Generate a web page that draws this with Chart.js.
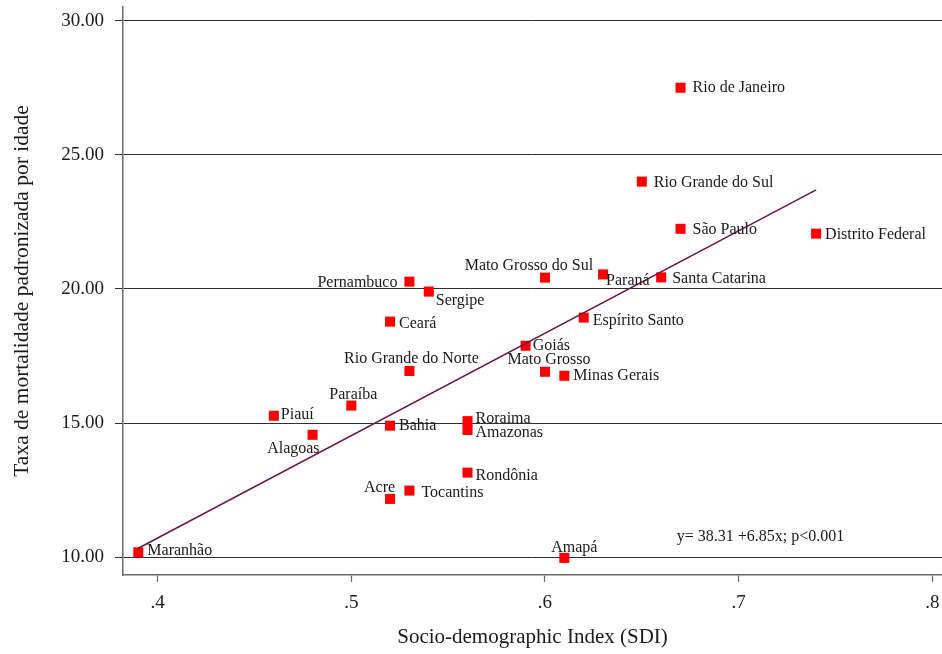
<!DOCTYPE html>
<html>
<head>
<meta charset="utf-8">
<script src="https://cdn.jsdelivr.net/npm/chart.js"></script>
<style>
  body { margin: 0; background: #fff; }
  #wrap { width: 942px; height: 654px; }
</style>
</head>
<body>
<div id="wrap"><canvas id="sdiChart" width="942" height="654"></canvas></div>
<script>
// States (Brazilian UFs), SDI and age-standardised mortality rate
const states = ['Acre', 'Alagoas', 'Amapá', 'Amazonas', 'Bahia', 'Ceará', 'Distrito Federal',
  'Espírito Santo', 'Goiás', 'Maranhão', 'Mato Grosso', 'Mato Grosso do Sul', 'Minas Gerais',
  'Paraíba', 'Paraná', 'Pernambuco', 'Piauí', 'Rio de Janeiro', 'Rio Grande do Norte',
  'Rio Grande do Sul', 'Rondônia', 'Roraima', 'Santa Catarina', 'São Paulo', 'Sergipe', 'Tocantins'];
const sdi = [0.52, 0.48, 0.61, 0.56, 0.52, 0.52, 0.74, 0.62, 0.59, 0.39, 0.60, 0.60, 0.61,
  0.50, 0.63, 0.53, 0.46, 0.67, 0.53, 0.65, 0.56, 0.56, 0.66, 0.67, 0.54, 0.53];
const rate = [12.17, 14.56, 9.97, 14.74, 14.90, 18.78, 22.06, 18.93, 17.88, 10.18, 16.91, 20.42, 16.76,
  15.65, 20.54, 20.27, 15.27, 27.50, 16.94, 24.00, 13.15, 15.07, 20.43, 22.24, 19.90, 12.48];

// fitted regression line (ends at min / max SDI)
const fitX = [0.39, 0.74];
const fitY = [10.33, 23.69];

const xTicks = [0.4, 0.5, 0.6, 0.7, 0.8];
const yTicks = [10, 15, 20, 25, 30];
const equationText = 'y= 38.31 +6.85x; p<0.001';
const equationAt = [0.668, 10.75];

// label placement: [align, dx, dy of baseline] in px from the marker
const labelLayout = {
  'Acre': ['right', 5, -7], 'Alagoas': ['right', 7, 18], 'Amapá': ['center', 10, -6],
  'Amazonas': ['left', 8, 7], 'Bahia': ['left', 9, 4], 'Ceará': ['left', 9, 6],
  'Distrito Federal': ['left', 9, 5], 'Espírito Santo': ['left', 9, 7], 'Goiás': ['left', 7, 4],
  'Maranhão': ['left', 9, 3], 'Mato Grosso': ['center', 4, -8], 'Mato Grosso do Sul': ['center', -16, -8],
  'Minas Gerais': ['left', 9, 4], 'Paraíba': ['center', 2, -7], 'Paraná': ['left', 3, 11],
  'Pernambuco': ['right', -12, 5], 'Piauí': ['left', 7, 3], 'Rio de Janeiro': ['left', 12, 4],
  'Rio Grande do Norte': ['center', 2, -8], 'Rio Grande do Sul': ['left', 12, 5],
  'Rondônia': ['left', 8, 7], 'Roraima': ['left', 8, 2], 'Santa Catarina': ['left', 11, 6],
  'São Paulo': ['left', 12, 5], 'Sergipe': ['left', 7, 13], 'Tocantins': ['left', 12, 6]
};

const serif = "'Liberation Serif', 'DejaVu Serif', serif";

// draws the state names and the equation text
const labelPlugin = {
  id: 'stateLabels',
  afterDatasetsDraw(chart) {
    const ctx = chart.ctx;
    const meta = chart.getDatasetMeta(1);
    ctx.save();
    ctx.font = '16px ' + serif;
    ctx.fillStyle = '#1a1a1a';
    ctx.textBaseline = 'alphabetic';
    meta.data.forEach(function (pt, i) {
      const lay = labelLayout[states[i]] || ['left', 10, 5];
      ctx.textAlign = lay[0];
      ctx.fillText(states[i], pt.x + lay[1], pt.y + lay[2]);
    });
    const ex = chart.scales.x.getPixelForValue(equationAt[0]);
    const ey = chart.scales.y.getPixelForValue(equationAt[1]);
    ctx.textAlign = 'left';
    ctx.textBaseline = 'middle';
    ctx.fillText(equationText, ex, ey);
    ctx.restore();
  }
};

const points = sdi.map(function (v, i) { return { x: v, y: rate[i] }; });
const fitLine = fitX.map(function (v, i) { return { x: v, y: fitY[i] }; });

const ctx = document.getElementById('sdiChart').getContext('2d');
const sdiChart = new Chart(ctx, {
  type: 'scatter',
  data: {
    datasets: [
      {
        label: 'Fitted values',
        data: fitLine,
        showLine: true,
        borderColor: '#6e1446',
        borderWidth: 1.5,
        pointRadius: 0,
        fill: false
      },
      {
        label: 'Taxa',
        data: points,
        pointStyle: 'rect',
        pointRadius: 7.1,
        pointHoverRadius: 7.1,
        backgroundColor: '#ff0000',
        borderWidth: 0
      }
    ]
  },
  options: {
    responsive: false,
    animation: false,
    layout: { autoPadding: false, padding: { top: 7, right: 0, left: 0, bottom: 0 } },
    plugins: {
      legend: { display: false },
      tooltip: { enabled: false }
    },
    scales: {
      x: {
        type: 'linear',
        min: 0.3821,
        max: 0.805,
        afterBuildTicks: function (axis) {
          axis.ticks = xTicks.map(function (v) { return { value: v }; });
        },
        afterFit: function (axis) {
          axis.height = 79;
          axis.paddingLeft = 0;
          axis.paddingRight = 0;
        },
        grid: { drawOnChartArea: false, drawTicks: true, tickLength: 7, tickColor: '#6a6a6a', tickWidth: 1.2 },
        border: { display: true, color: '#6a6a6a', width: 1.5 },
        ticks: {
          padding: 10,
          color: '#1a1a1a',
          font: { family: serif, size: 19 },
          maxRotation: 0,
          autoSkip: false,
          callback: function (v) { return v.toFixed(1).replace(/^0/, ''); }
        },
        title: {
          display: true,
          text: 'Socio-demographic Index (SDI)',
          color: '#1a1a1a',
          font: { family: serif, size: 21 },
          padding: { top: 0, bottom: 4 }
        }
      },
      y: {
        type: 'linear',
        min: 9.333,
        max: 30.51,
        afterBuildTicks: function (axis) {
          axis.ticks = yTicks.map(function (v) { return { value: v }; });
        },
        afterFit: function (axis) {
          axis.width = 123;
          axis.paddingTop = 0;
          axis.paddingBottom = 0;
        },
        grid: { color: '#2e2e2e', lineWidth: 1, drawTicks: true, tickLength: 8, tickColor: '#2e2e2e' },
        border: { display: true, color: '#6a6a6a', width: 1.5 },
        ticks: {
          padding: 11,
          color: '#1a1a1a',
          font: { family: serif, size: 19 },
          autoSkip: false,
          callback: function (v) { return v.toFixed(2); }
        },
        title: {
          display: true,
          text: 'Taxa de mortalidade padronizada por idade',
          color: '#1a1a1a',
          font: { family: serif, size: 21.5 },
          padding: { top: 9, bottom: 0 }
        }
      }
    }
  },
  plugins: [labelPlugin]
});
</script>
</body>
</html>
